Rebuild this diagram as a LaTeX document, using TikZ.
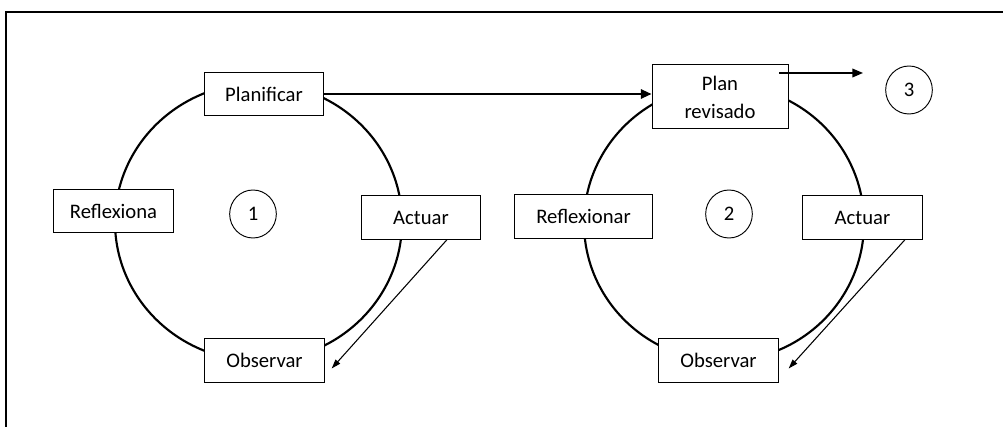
\documentclass[tikz,border=0pt]{standalone}
\usepackage{fontspec}
\setmainfont{Carlito}
\usetikzlibrary{arrows.meta,calc,shapes.geometric}
\begin{document}
\begin{tikzpicture}[x=0.75pt,y=-0.75pt,
	caja/.style={draw,fill=white,line width=0.75pt,minimum width=89.5pt,minimum height=32.5pt,inner sep=0pt,font=\fontsize{15.5}{21}\selectfont},
	num/.style={draw,ellipse,line width=0.7pt,minimum width=35pt,minimum height=36pt,inner sep=0pt,font=\fontsize{15.5}{19}\selectfont},
	flecha/.style={line width=0.8pt,-{Triangle[length=7pt,width=4.5pt]}}]
		\useasboundingbox (0,0) rectangle (1003,427);
		\draw [line width=1.6pt] (6,427) -- (6,12) -- (1003,12);
		\draw [line width=1.6pt] (258.5,222) ellipse [x radius=143.5, y radius=139];
		\draw [line width=1.6pt] (724,223) ellipse [x radius=140, y radius=138];
		\node[caja] (plan1) at (264,94) {Planificar};
		\node[caja] (refl1) at (113.5,211) {Reflexiona};
		\node[caja] (act1) at (421,217.5) {Actuar};
		\node[caja] (obs1) at (264.5,360.5) {Observar};
		\node[caja,minimum width=104pt] (refl2) at (583.5,216.5) {Reflexionar};
		\node[caja,minimum width=102pt,minimum height=48pt,align=center] (plan2) at (720,97) {Plan\\revisado};
		\node[caja] (act2) at (862.5,217.5) {Actuar};
		\node[caja] (obs2) at (718.5,360.5) {Observar};
		\node[num] (n1) at (253,214) {1};
		\node[num] (n2) at (729,214) {2};
		\node[num] (n3) at (909,90) {3};
		\coordinate (s3) at (779,73);
		\coordinate (e3) at (863,73);
		\draw [line width=1.5pt,-{Triangle[length=8pt,width=7pt]}] (plan1.east) -- (plan1.east -| plan2.west);
		\draw [line width=1.1pt,-{Triangle[length=8pt,width=6.5pt]}] (s3) -- (e3);
		\draw [flecha] ($(act1.south)+(26,0)$) -- ($(obs1.east)+(7,8)$);
		\draw [flecha] ($(act2.south)+(42.5,0)$) -- ($(obs2.east)+(10,8)$);
	\end{tikzpicture}
\end{document}
